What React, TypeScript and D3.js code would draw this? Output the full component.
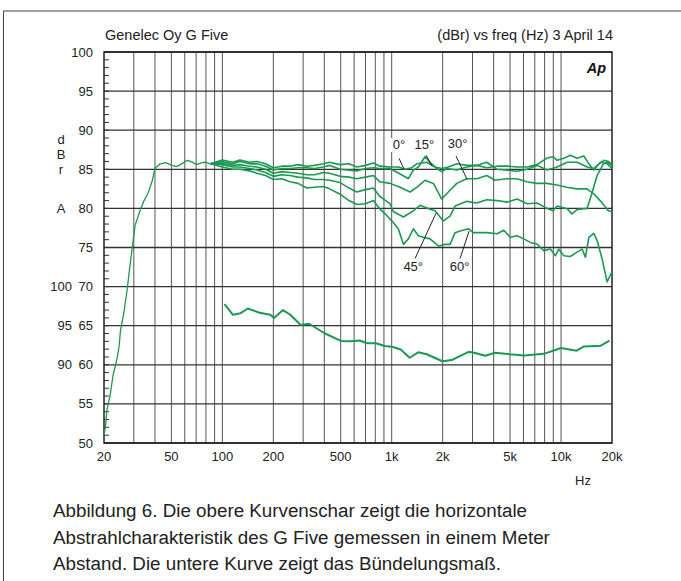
import React from 'react';
import * as d3 from 'd3';

const W = 681;
const H = 581;

// ---- axis data ----
const xTickValues = [20, 50, 100, 200, 500, 1000, 2000, 5000, 10000, 20000];
const xTickLabels = ['20', '50', '100', '200', '500', '1k', '2k', '5k', '10k', '20k'];
const yTickValues = [50, 55, 60, 65, 70, 75, 80, 85, 90, 95, 100];
const yTickLabels = ['50', '55', '60', '65', '70', '75', '80', '85', '90', '95', '100'];
const diTickValues = [60, 65, 70];
const diTickLabels = ['90', '95', '100'];

// ---- shared low-frequency part (Hz, dBr) ----
const bass: [number, number][] = [
  [20, 51.0], [20.4, 52.1], [20.8, 54.2], [21.7, 56.0], [22.6, 58.6], [23.9, 60.8], [24.6, 62.5],
  [25.0, 64.3], [26.3, 66.9], [27.4, 69.6], [28.4, 72.5], [30.5, 77.8], [32.6, 79.7], [34.5, 81.0],
  [36.5, 82.0], [38.5, 83.5], [40.0, 85.1], [42.9, 85.7], [46.2, 85.85], [50.4, 85.5], [53.6, 85.35],
  [57.5, 85.7], [62.1, 86.15], [65.9, 85.95], [70.4, 85.6], [75.9, 85.85], [80, 85.9], [85, 85.7],
];

const resp0: [number, number][] = [
  [100, 86.2], [115, 85.9], [127, 86.2], [145, 85.9], [160, 86.0], [180, 85.7], [200, 85.2], [225, 85.4],
  [251, 85.4], [280, 85.6], [315, 85.4], [350, 85.5], [395, 85.7], [430, 85.9], [496, 85.6], [560, 85.7],
  [622, 85.3], [700, 85.5], [780, 85.8], [853, 85.4], [977, 85.3], [1094, 85.3], [1200, 85.0], [1314, 85.2],
  [1407, 85.7], [1611, 85.9], [1804, 85.3], [1975, 85.1], [2160, 85.3], [2423, 85.7], [2775, 85.5],
  [3181, 85.5], [3643, 85.9], [4191, 85.0], [4803, 84.9], [5503, 84.75], [6305, 85.0], [7223, 85.5],
  [8274, 84.9], [9480, 85.3], [10862, 85.9], [12445, 85.9], [14256, 85.3], [15600, 85.1], [17140, 85.9],
  [18710, 85.7], [20000, 85.1],
];

const resp15: [number, number][] = [
  [100, 86.0], [115, 85.7], [127, 86.0], [145, 85.7], [160, 85.7], [180, 85.4], [200, 84.9], [225, 85.1],
  [251, 85.1], [280, 85.2], [315, 85.2], [350, 85.1], [395, 85.3], [430, 85.5], [496, 85.0], [560, 84.9],
  [622, 84.8], [700, 85.1], [780, 85.2], [853, 85.1], [977, 85.1], [1121, 84.4], [1255, 83.8], [1343, 84.9],
  [1438, 85.3], [1574, 86.6], [1685, 85.9], [1846, 85.1], [1975, 84.7], [2114, 85.1], [2423, 84.9],
  [2775, 85.3], [3181, 85.5], [3643, 85.2], [4191, 85.4], [4803, 85.4], [5503, 85.3], [6305, 85.3],
  [7223, 85.6], [8274, 86.45], [8990, 86.6], [9480, 86.15], [10380, 86.4], [11330, 86.8], [12445, 86.4],
  [13620, 86.7], [14600, 85.7], [15600, 84.9], [16720, 85.7], [17920, 86.15], [19130, 86.0], [20000, 85.5],
];

const resp30: [number, number][] = [
  [100, 85.8], [115, 85.5], [127, 85.6], [145, 85.4], [160, 85.3], [180, 85.0], [200, 84.5], [225, 84.7],
  [251, 84.6], [280, 84.5], [315, 84.3], [350, 84.3], [395, 84.6], [430, 84.5], [496, 84.1], [560, 84.0],
  [622, 83.8], [700, 84.0], [780, 84.2], [853, 83.4], [977, 83.2], [1121, 82.7], [1284, 82.1], [1407, 82.7],
  [1574, 83.6], [1763, 83.2], [1975, 81.2], [2160, 82.1], [2423, 83.2], [2775, 83.8], [3181, 83.8],
  [3643, 84.2], [4079, 83.6], [4782, 83.8], [5480, 83.8], [6277, 83.4], [7193, 83.2], [8240, 83.2],
  [9443, 83.0], [10814, 82.7], [12392, 82.5], [14195, 82.5], [15530, 81.9], [17010, 81.0], [19040, 79.7],
  [20000, 79.6],
];

const resp45: [number, number][] = [
  [100, 85.6], [115, 85.3], [127, 85.3], [145, 85.1], [160, 84.9], [180, 84.6], [200, 84.1], [225, 84.3],
  [251, 84.2], [280, 84.0], [315, 83.9], [350, 83.7], [395, 83.7], [430, 83.6], [496, 83.3], [560, 82.6],
  [622, 82.1], [700, 82.4], [780, 82.6], [853, 81.5], [977, 80.6], [1022, 79.6], [1173, 78.9], [1343, 79.7],
  [1471, 80.4], [1685, 79.9], [1804, 79.7], [2019, 78.4], [2211, 79.0], [2367, 80.3], [2775, 80.9],
  [3181, 80.7], [3643, 81.1], [4191, 81.0], [4803, 80.8], [5503, 81.2], [6305, 80.6], [7223, 80.7],
  [8274, 80.0], [8990, 79.7], [9480, 80.3], [10862, 79.95], [11600, 79.3], [12445, 79.85], [14256, 80.0],
  [15300, 82.1], [16334, 84.2], [17800, 85.7], [18710, 85.9], [20000, 85.5],
];

const resp60: [number, number][] = [
  [100, 85.3], [115, 85.0], [127, 85.0], [145, 84.8], [160, 84.5], [180, 84.2], [200, 83.7], [225, 83.8],
  [251, 83.4], [280, 83.2], [315, 82.6], [350, 82.7], [395, 82.8], [430, 82.5], [496, 81.8], [560, 81.0],
  [622, 80.5], [700, 80.6], [780, 81.0], [853, 79.9], [934, 79.1], [1022, 78.2], [1094, 77.4], [1173, 75.4],
  [1255, 76.1], [1343, 77.4], [1438, 76.5], [1539, 76.3], [1685, 76.1], [1887, 75.2], [2066, 75.4],
  [2211, 75.4], [2367, 76.9], [2534, 77.1], [2837, 77.4], [3037, 76.9], [3643, 76.9], [4191, 76.75],
  [4591, 77.2], [5021, 76.3], [5503, 76.5], [6027, 76.1], [6590, 75.65], [7223, 75.45], [7907, 74.6],
  [8654, 74.8], [9272, 73.95], [9690, 74.8], [10380, 73.95], [11330, 73.85], [12445, 74.4], [13320, 74.8],
  [13930, 73.75], [14600, 76.3], [15600, 76.8], [16334, 75.9], [17480, 73.55], [18710, 70.6], [19530, 71.45],
  [20000, 71.9],
];

// directivity index (drawn against the main scale, labelled on the inner scale)
const directivity: [number, number][] = [
  [103, 67.75], [115.5, 66.4], [128, 66.6], [141.5, 67.2], [166, 66.65], [192, 66.4], [202, 66.0],
  [228, 67.0], [252, 66.4], [290, 65.1], [325, 65.25], [404, 64.0], [502, 63.05], [567, 63.0], [647, 63.1],
  [716, 62.75], [809, 62.75], [909, 62.4], [1006, 62.3], [1130, 61.95], [1277, 60.9], [1434, 61.6],
  [1612, 61.35], [1993, 60.45], [2263, 60.6], [2843, 61.65], [2990, 61.6], [3571, 61.15], [4093, 61.55],
  [4966, 61.35], [6080, 61.2], [7913, 61.4], [10000, 62.15], [12360, 61.8], [13680, 62.35], [17180, 62.45],
  [19330, 63.1],
];

const angleCurves = [resp0, resp15, resp30, resp45, resp60];
const angleLabels = ['0°', '15°', '30°', '45°', '60°'];

const captionLines = [
  'Abbildung 6. Die obere Kurvenschar zeigt die horizontale',
  'Abstrahlcharakteristik des G Five gemessen in einem Meter',
  'Abstand. Die untere Kurve zeigt das Bündelungsmaß.',
];

const FONT = '"Liberation Sans", Arial, Helvetica, sans-serif';
const GREEN = '#1a9a50';

export default function App() {
  const L = 104, R = 612, T = 52, B = 443;
  const x = d3.scaleLog().domain([20, 20000]).range([L, R]);
  const y = d3.scaleLinear().domain([50, 100]).range([B, T]);

  const line = d3
    .line<[number, number]>()
    .x((d) => x(d[0]))
    .y((d) => y(d[1]));

  const gridFreqs: number[] = [];
  [10, 100, 1000, 10000].forEach((dec) => {
    for (let m = 1; m <= 9; m++) {
      const f = m * dec;
      if (f > 20 && f < 20000) gridFreqs.push(f);
    }
  });
  const minorDb = d3.range(50, 101, 1);
  const bassEnd = bass[bass.length - 1];

  // annotation anchors in data space
  const ann: { f: number; db: number; l: [number, number, number, number] }[] = [
    { f: 1105, db: 87.6, l: [1105, 86.4, 1184, 85.0] },
    { f: 1560, db: 87.6, l: [1596, 86.8, 1732, 85.4] },
    { f: 2450, db: 87.7, l: [2398, 86.7, 2788, 83.7] },
    { f: 1340, db: 72.0, l: [1375, 73.6, 1828, 79.4] },
    { f: 2520, db: 72.0, l: [2534, 73.6, 2864, 77.1] },
  ];

  const TICK = 13;

  return (
    <svg
      width={W}
      height={H}
      style={{ position: 'absolute', left: 0, top: 0, background: '#fff' }}
      fontFamily={FONT}
    >
      <rect x={0} y={0} width={W} height={H} fill="#fff" />
      {/* frame */}
      <line x1={3.5} y1={11} x2={W} y2={11} stroke="#444" strokeWidth={1} />
      <line x1={3.5} y1={11} x2={3.5} y2={H} stroke="#444" strokeWidth={1} />

      {/* header */}
      <text x={L + 1} y={40} fontSize={14.5} fill="#222">Genelec Oy G Five</text>
      <text x={R + 1} y={40} fontSize={14.5} fill="#222" textAnchor="end">(dBr) vs freq (Hz) 3 April 14</text>

      {/* vertical grid */}
      {gridFreqs.map((f) => (
        <line key={'v' + f} x1={x(f)} x2={x(f)} y1={T} y2={B} stroke="#555" strokeWidth={1} />
      ))}
      {/* horizontal grid */}
      {yTickValues.map((v) => (
        <line key={'h' + v} x1={L} x2={R} y1={y(v)} y2={y(v)} stroke="#333" strokeWidth={1.3} />
      ))}
      {/* minor ticks */}
      {minorDb.map((v) => (
        <line key={'m' + v} x1={L} x2={L + 5} y1={y(v)} y2={y(v)} stroke="#333" strokeWidth={1} />
      ))}
      {/* frame of plot */}
      <rect x={L} y={T} width={R - L} height={B - T} fill="none" stroke="#222" strokeWidth={1.5} />

      {/* y tick labels */}
      {yTickValues.map((v, i) => (
        <text key={'yl' + v} x={L - 11} y={y(v) + 4.5} fontSize={TICK} textAnchor="end" fill="#222">
          {yTickLabels[i]}
        </text>
      ))}
      {diTickValues.map((v, i) => (
        <text key={'dl' + v} x={72} y={y(v) + 4.5} fontSize={TICK} textAnchor="end" fill="#222">
          {diTickLabels[i]}
        </text>
      ))}
      {/* y axis title */}
      {['d', 'B', 'r'].map((c, i) => (
        <text key={'t' + c} x={61} y={144 + i * 15} fontSize={TICK} textAnchor="middle" fill="#222">
          {c}
        </text>
      ))}
      <text x={61} y={y(80) + 4.5} fontSize={TICK} textAnchor="middle" fill="#222">A</text>

      {/* x tick labels */}
      {xTickValues.map((v, i) => (
        <text key={'xl' + v} x={x(v)} y={B + 18} fontSize={TICK} textAnchor="middle" fill="#222">
          {xTickLabels[i]}
        </text>
      ))}
      <text x={583} y={485} fontSize={TICK} textAnchor="middle" fill="#222">Hz</text>

      {/* Ap logo */}
      <text x={606} y={73} fontSize={14.5} fontWeight="bold" fontStyle="italic" textAnchor="end" fill="#111">
        Ap
      </text>

      {/* curves */}
      <path d={line(bass) || ''} fill="none" stroke={GREEN} strokeWidth={1.3} strokeLinejoin="round" />
      {angleCurves.map((c, i) => (
        <path
          key={'c' + i}
          d={line([bassEnd, ...c]) || ''}
          fill="none"
          stroke={GREEN}
          strokeWidth={1.6}
          strokeLinejoin="round"
        />
      ))}
      <path d={line(directivity) || ''} fill="none" stroke={GREEN} strokeWidth={2} strokeLinejoin="round" />

      {/* angle annotations */}
      {ann.map((a, i) => (
        <g key={'a' + i}>
          <line x1={x(a.l[0])} y1={y(a.l[1])} x2={x(a.l[2])} y2={y(a.l[3])} stroke="#222" strokeWidth={1} />
          <rect x={x(a.f) - 11} y={y(a.db) - 11} width={22} height={14} fill="#fff" />
          <text x={x(a.f)} y={y(a.db)} fontSize={13} textAnchor="middle" fill="#222">
            {angleLabels[i]}
          </text>
        </g>
      ))}

      {/* caption */}
      {captionLines.map((t, i) => (
        <text key={'cap' + i} x={53} y={517 + i * 26.5} fontSize={18.8} fill="#222">
          {t}
        </text>
      ))}
    </svg>
  );
}
